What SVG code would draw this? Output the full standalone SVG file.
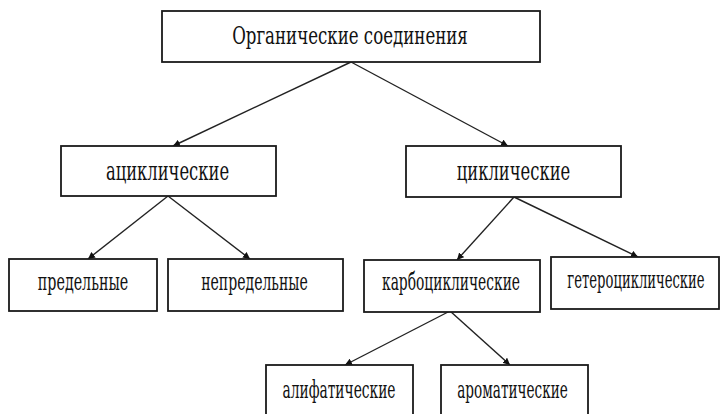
<svg xmlns="http://www.w3.org/2000/svg" width="720" height="414" viewBox="0 0 720 414">
<style>
.box{fill:#fff;stroke:#1a1a1a;stroke-width:1.8}
.t{font-family:"DejaVu Serif Condensed","DejaVu Serif","Liberation Serif",serif;fill:#111;text-anchor:middle}
.big{font-size:24px}
.mid{font-size:26px}
.sm{font-size:24px}
.c{stroke:#222;stroke-width:1.4;fill:none;marker-end:url(#ah)}
</style>
<defs>
<marker id="ah" viewBox="0 0 10 10" refX="10" refY="5" markerWidth="7" markerHeight="7" markerUnits="userSpaceOnUse" orient="auto">
<path d="M0,0 L10,5 L0,10 z" fill="#111"/>
</marker>
</defs>
<rect width="720" height="414" fill="#fff"/>
<g id="connectors">
<line class="c" x1="351" y1="62" x2="173" y2="146"/>
<line class="c" x1="351" y1="62" x2="508" y2="146"/>
<line class="c" x1="168" y1="196" x2="88" y2="259"/>
<line class="c" x1="168" y1="196" x2="250" y2="259"/>
<line class="c" x1="514" y1="197" x2="457" y2="260"/>
<line class="c" x1="514" y1="197" x2="638" y2="257"/>
<line class="c" x1="450" y1="311" x2="345" y2="365"/>
<line class="c" x1="450" y1="311" x2="510" y2="365"/>
</g>
<g id="organic">
<rect class="box" x="162" y="11" width="378" height="51"/>
<text class="t big" transform="translate(350 44) scale(0.77 1)">Органические соединения</text>
</g>
<g id="acyclic">
<rect class="box" x="61" y="146" width="215" height="50"/>
<text class="t mid" transform="translate(167.5 180) scale(0.70 1)">ациклические</text>
</g>
<g id="cyclic">
<rect class="box" x="406" y="146" width="215" height="51"/>
<text class="t mid" transform="translate(513.5 180) scale(0.70 1)">циклические</text>
</g>
<g id="saturated">
<rect class="box" x="9" y="259" width="148" height="52"/>
<text class="t sm" transform="translate(83 290) scale(0.66 1)">предельные</text>
</g>
<g id="unsaturated">
<rect class="box" x="168" y="259" width="175" height="52"/>
<text class="t sm" transform="translate(254.5 290) scale(0.65 1)">непредельные</text>
</g>
<g id="carbocyclic">
<rect class="box" x="364" y="260" width="176" height="52"/>
<text class="t sm" transform="translate(451 290) scale(0.64 1)">карбоциклические</text>
</g>
<g id="heterocyclic">
<rect class="box" x="551" y="257" width="168" height="52"/>
<text class="t sm" transform="translate(636 288) scale(0.61 1)">гетероциклические</text>
</g>
<g id="aliphatic">
<rect class="box" x="266" y="365" width="147" height="52"/>
<text class="t sm" transform="translate(339 398) scale(0.64 1)">алифатические</text>
</g>
<g id="aromatic">
<rect class="box" x="441" y="365" width="147" height="52"/>
<text class="t sm" transform="translate(512.5 398) scale(0.63 1)">ароматические</text>
</g>
</svg>
